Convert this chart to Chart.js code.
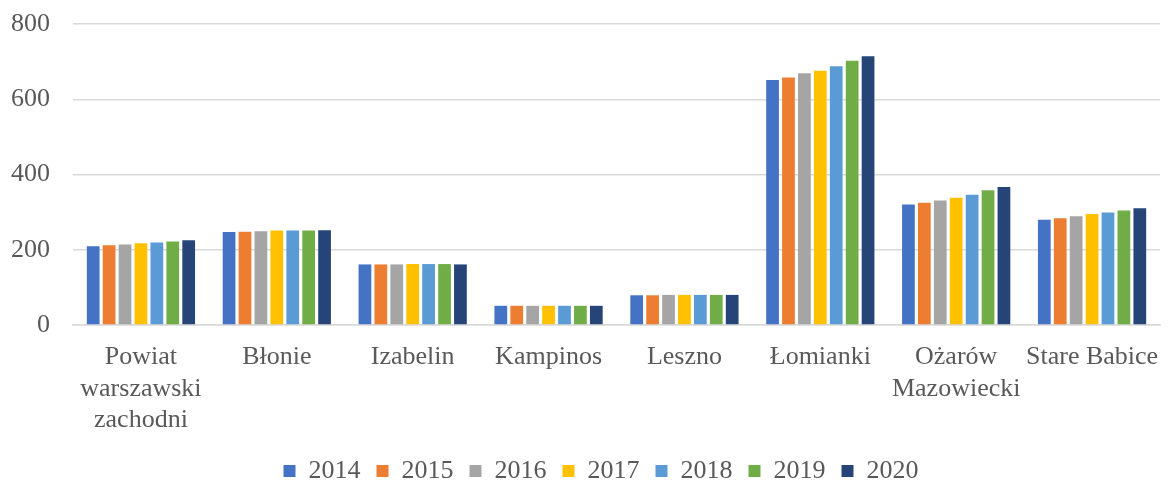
<!DOCTYPE html>
<html>
<head>
<meta charset="utf-8">
<script src="https://cdn.jsdelivr.net/npm/chart.js@4"></script>
<style>
  html, body { margin: 0; padding: 0; background: #fff; }
  #wrap { width: 1173px; height: 480px; }
</style>
</head>
<body>
<div id="wrap"><canvas id="chart"></canvas></div>
<script>
// Categories (multi-line labels like the original)
const gminy = [
    ["Powiat", "warszawski", "zachodni"],
    "Błonie",
    "Izabelin",
    "Kampinos",
    "Leszno",
    "Łomianki",
    ["Ożarów", "Mazowiecki"],
    "Stare Babice"
];

const years = ["2014", "2015", "2016", "2017", "2018", "2019", "2020"];
const yTicks = [0, 200, 400, 600, 800];

// values per year, one entry per category
const v2014 = [209, 247, 161, 51, 79, 651, 320, 280];
const v2015 = [212, 248, 161, 51, 79, 658, 325, 284];
const v2016 = [214, 249, 161, 51, 80, 669, 331, 289];
const v2017 = [217, 251, 162, 51, 80, 676, 338, 295];
const v2018 = [219, 251, 162, 51, 80, 688, 346, 299];
const v2019 = [222, 251, 162, 51, 80, 702, 358, 304];
const v2020 = [225, 252, 161, 51, 80, 714, 367, 310];

const seriesValues = [v2014, v2015, v2016, v2017, v2018, v2019, v2020];
const colors = ["#4472C4", "#ED7D31", "#A5A5A5", "#FFC000", "#5B9BD5", "#70AD47", "#264478"];

const textColor = "#595959";
const gridColor = "#d9d9d9";
const font = { family: "'Liberation Serif', 'Times New Roman', serif", size: 26 };

const datasets = years.map((y, i) => ({
    label: y,
    data: seriesValues[i],
    backgroundColor: colors[i],
    borderWidth: 0,
    barPercentage: 0.8,
    categoryPercentage: 0.82
}));

// the legend in the original sits a bit right of the canvas centre
const shiftLegend = {
    id: 'shiftLegend',
    afterLayout(chart) {
        chart.legend.left += 21;
        chart.legend.right += 21;
    }
};

new Chart(document.getElementById("chart").getContext("2d"), {
    type: 'bar',
    data: { labels: gminy, datasets: datasets },
    plugins: [shiftLegend],
    options: {
        responsive: true,
        maintainAspectRatio: false,
        animation: false,
        layout: { padding: { top: 24, right: 13, left: 0, bottom: -14 } },
        plugins: {
            tooltip: { enabled: false },
            legend: {
                position: 'bottom',
                labels: {
                    color: textColor,
                    font: font,
                    boxWidth: 12,
                    boxHeight: 12,
                    padding: 16
                }
            }
        },
        scales: {
            x: {
                grid: { display: false },
                border: { color: gridColor, width: 1.5 },
                ticks: {
                    color: textColor,
                    font: { ...font, lineHeight: 1.2 },
                    maxRotation: 0,
                    autoSkip: false,
                    padding: 9
                },
                afterFit: scale => { scale.height = 117; }
            },
            y: {
                min: 0,
                max: 800,
                afterBuildTicks: scale => { scale.ticks = yTicks.map(v => ({ value: v })); },
                grid: { color: gridColor, lineWidth: 1.5, drawTicks: false },
                border: { display: false },
                ticks: { color: textColor, font: font, padding: 23 },
                afterFit: scale => {
                    scale.width = 73;
                    scale.paddingTop = 0;
                    scale.paddingBottom = 0;
                }
            }
        }
    }
});
</script>
</body>
</html>
